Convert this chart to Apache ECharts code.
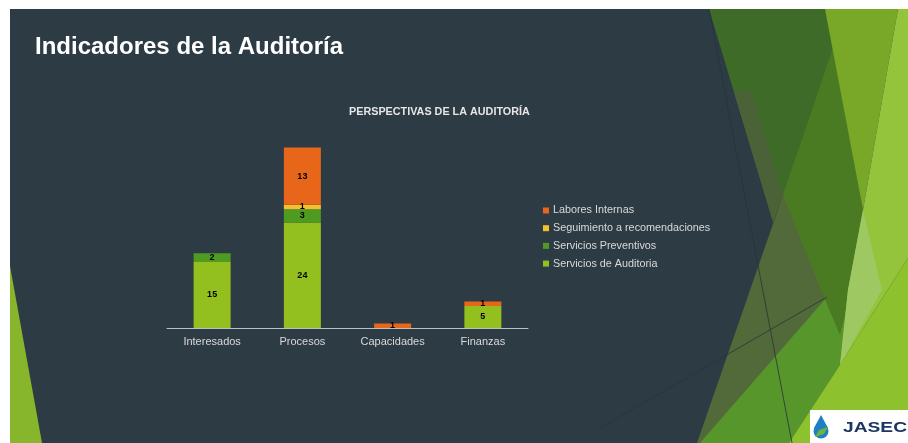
<!DOCTYPE html>
<html>
<head>
<meta charset="utf-8">
<title>Indicadores de la Auditoría</title>
<script src="https://cdn.jsdelivr.net/npm/echarts@6/dist/echarts.min.js"></script>
<style>
  html, body { margin: 0; padding: 0; background: #ffffff; }
  #chart { width: 908px; height: 443px; }
</style>
</head>
<body>
<div id="chart"></div>
<script>
// Audit perspectives and the work counted in each one
const categories = ['Interesados', 'Procesos', 'Capacidades', 'Finanzas'];
const serviciosAuditoria = [15, 24, 0, 5];
const serviciosPreventivos = [2, 3, 0, 0];
const seguimientoRecomendaciones = [0, 1, 0, 0];
const laboresInternas = [0, 13, 1, 1];

const seriesNames = [
  'Servicios de Auditoria',
  'Servicios Preventivos',
  'Seguimiento a recomendaciones',
  'Labores Internas'
];
const seriesColors = ['#93c01f', '#4f9b22', '#f2c12e', '#e8661a'];
const seriesValues = [serviciosAuditoria, serviciosPreventivos, seguimientoRecomendaciones, laboresInternas];

const FONT = '"Liberation Sans", Arial, sans-serif';

// Slide decoration: facets on the right, sliver on the left
function poly(points, fill, z) {
  return { type: 'polygon', z: z || 0, silent: true, shape: { points: points }, style: { fill: fill } };
}
const decoration = [
  { type: 'rect', z: 0, silent: true, shape: { x: 10, y: 9, width: 898, height: 434 }, style: { fill: '#2d3b44' } },
  poly([[10, 266], [10, 443], [42, 443]], '#87b52b'),
  poly([[709, 9], [830, 9], [863, 210], [783, 195], [773, 222]], '#3e6b28'),
  poly([[734, 92], [751, 92], [783, 195], [773, 222]], '#4b6238'),
  poly([[783, 195], [865, 330], [800, 443], [697, 443]], '#52693a'),
  poly([[700, 443], [827, 297], [848, 292], [840, 365], [789, 443]], '#56962b'),
  poly([[833, 48], [863, 210], [850, 295], [840, 335], [823, 295], [783, 195]], '#4a7b23'),
  poly([[825, 9], [898, 9], [863, 210]], '#79a728'),
  poly([[898, 9], [908, 9], [908, 258], [840, 365], [848, 290], [863, 210]], '#94c43c'),
  poly([[908, 258], [908, 443], [789, 443], [840, 365]], '#8ec12e'),
  poly([[863, 210], [882, 290], [840, 365], [848, 290]], '#9dc862'),
  { type: 'line', z: 0, silent: true, shape: { x1: 709, y1: 9, x2: 792, y2: 443 }, style: { stroke: '#27343a', lineWidth: 1, opacity: 0.8 } },
  { type: 'line', z: 0, silent: true, shape: { x1: 600, y1: 428, x2: 827, y2: 297 }, style: { stroke: '#27343a', lineWidth: 1, opacity: 0.8 } },
  // logo
  { type: 'rect', z: 1, silent: true, shape: { x: 810, y: 410, width: 98, height: 33 }, style: { fill: '#ffffff' } },
  { type: 'circle', z: 1, silent: true, shape: { cx: 821, cy: 431, r: 7.5 }, style: { fill: '#1f7fc4' } },
  poly([[821, 415], [814, 428], [828, 428]], '#1f7fc4', 1),
  poly([[815, 437], [819, 430], [828, 427], [824, 434]], '#6cb33f', 1),
  { type: 'text', z: 1, silent: true, x: 843, y: 428, scaleX: 1.28,
    style: { text: 'JASEC', font: 'bold 15px ' + FONT, fill: '#1c3664', verticalAlign: 'middle' } },
  // slide heading
  { type: 'text', z: 1, silent: true, x: 35, y: 47,
    style: { text: 'Indicadores de la Auditoría', font: 'bold 24px ' + FONT, fill: '#ffffff', verticalAlign: 'middle' } }
];

const chart = echarts.init(document.getElementById('chart'), null, { renderer: 'canvas' });

chart.setOption({
  animation: false,
  backgroundColor: '#ffffff',
  graphic: { elements: decoration },
  title: {
    text: 'PERSPECTIVAS DE LA AUDITORÍA',
    left: 349,
    top: 107,
    padding: 0,
    textStyle: { color: '#e6e6e6', fontSize: 10.8, fontWeight: 'bold', fontFamily: FONT }
  },
  legend: {
    orient: 'vertical',
    left: 543,
    top: 205,
    padding: 0,
    itemWidth: 6,
    itemHeight: 6,
    itemGap: 6.7,
    icon: 'rect',
    data: ['Labores Internas', 'Seguimiento a recomendaciones', 'Servicios Preventivos', 'Servicios de Auditoria'],
    textStyle: { color: '#d9d9d9', fontSize: 10.8, fontFamily: FONT, padding: [0, 0, 0, -1] }
  },
  grid: { left: 167, right: 380, top: 130, bottom: 115 },
  xAxis: {
    type: 'category',
    data: categories,
    axisLine: { lineStyle: { color: '#bfbfbf', width: 1 } },
    axisTick: { show: false },
    axisLabel: { color: '#d9d9d9', fontSize: 11, fontFamily: FONT, margin: 8 }
  },
  yAxis: {
    type: 'value',
    min: 0,
    max: 45,
    show: false,
    splitLine: { show: false }
  },
  series: seriesNames.map(function (name, i) {
    return {
      name: name,
      type: 'bar',
      stack: 'total',
      barWidth: '41%',
      itemStyle: { color: seriesColors[i] },
      label: {
        show: true,
        position: 'inside',
        color: '#000000',
        fontSize: 9,
        fontWeight: 'bold',
        fontFamily: FONT,
        formatter: function (p) { return p.value ? String(p.value) : ''; }
      },
      data: seriesValues[i]
    };
  })
});
</script>
</body>
</html>
